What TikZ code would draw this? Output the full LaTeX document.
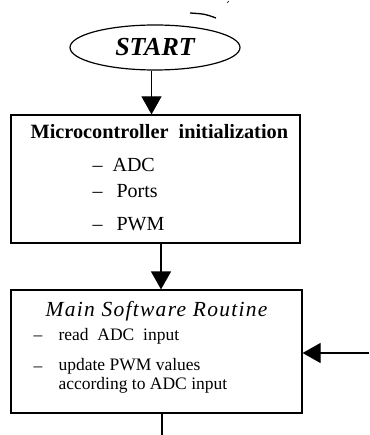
\documentclass[tikz,border=0pt]{standalone}
\usepackage{fontspec}
\setmainfont{Liberation Serif}
\usetikzlibrary{shapes.geometric, arrows.meta, positioning, calc}
\tikzset{>={Triangle[length=18pt,width=20pt]}}
\tikzset{
  block/.style={draw, rectangle, inner sep=0pt},
  startnode/.style={draw, ellipse, minimum width=170pt, minimum height=45pt, inner sep=0pt,
    font=\fontsize{26}{30}\selectfont\bfseries\itshape},
  item/.style={anchor=base west, inner sep=0pt, font=\fontsize{20}{24}\selectfont},
  subitem/.style={anchor=base west, inner sep=0pt, font=\fontsize{17.5}{20}\selectfont},
}

\begin{document}
\begin{tikzpicture}[x=1pt, y=-1pt, line width=1.2pt]
\useasboundingbox (0,0) rectangle (369,435);
\draw[line width=1.3pt] (190,13) .. controls (205,14) .. (216,18);
\draw[line width=0.6pt] (227,3) -- (229,1);
\node[startnode] (start) at (155,47.5) {START};
\node[block, minimum width=289pt, minimum height=128pt] (init) at (155.5,179) {};
\node[block, minimum width=291pt, minimum height=123pt] (main) at (156.5,351.5) {};
\node[item, font=\fontsize{20.3}{24}\selectfont\bfseries] (initTitle) at (30,139) {Microcontroller\ \ initialization};
\node[item] (initAdc) at (92,172) {–\hspace{10pt}ADC};
\node[item] (initPorts) at (92,197) {–\hspace{14pt}Ports};
\node[item] (initPwm) at (92,230) {–\hspace{14pt}PWM};
\node[item, font=\fontsize{21.5}{24}\selectfont\itshape\addfontfeature{LetterSpace=6}] (mainTitle) at (45,316) {Main Software Routine};
\node[subitem] (readDash) at (33,340) {–};
\node[subitem] (readAdc) at (58,340) {read\ \ ADC\ \ input};
\node[subitem] (pwmDash) at (33,371) {–};
\node[subitem] (updatePwm) at (58,370) {update PWM values};
\node[subitem] (updateAdc) at (58,389) {according to ADC input};
\draw[->] ([xshift=-3.5pt]start.south) -- ([xshift=-3.5pt]start.south |- init.north);
\draw[->] ([xshift=5.5pt]init.south) -- ([xshift=5.5pt]init.south |- main.north);
\coordinate (loopIn) at (369,353);
\draw[->] (loopIn) -- (loopIn -| main.east);
\coordinate (mainOut) at (162,435);
\draw (main.south -| mainOut) -- (mainOut);
\end{tikzpicture}
\end{document}
